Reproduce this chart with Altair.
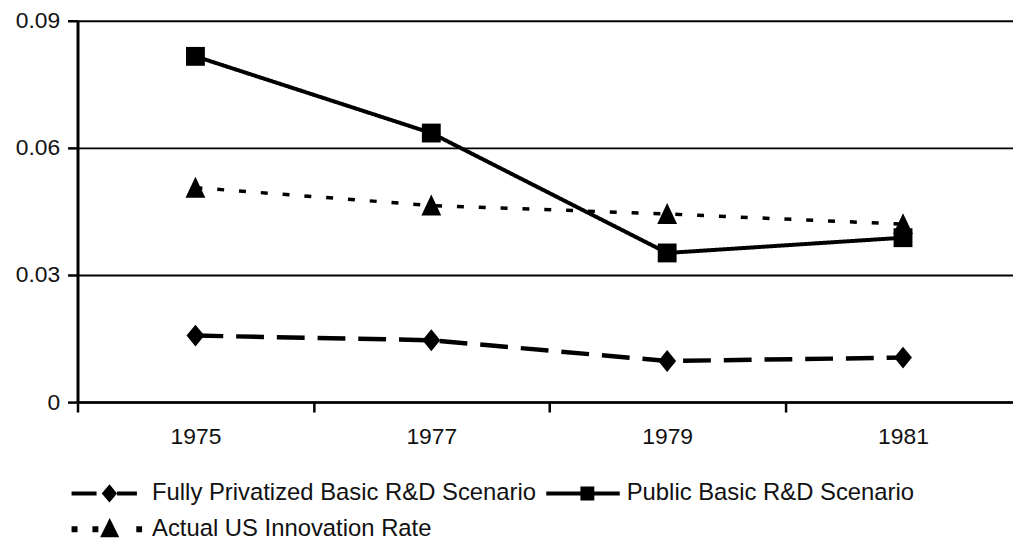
import altair as alt
import pandas as pd

years = ["1975", "1977", "1979", "1981"]
privatized = [0.0157, 0.0146, 0.0097, 0.0105]
public = [0.0816, 0.0635, 0.0352, 0.0388]
actual = [0.0506, 0.0464, 0.0444, 0.0420]
series_names = [
    "Fully Privatized Basic R&D Scenario",
    "Public Basic R&D Scenario",
    "Actual US Innovation Rate",
]
y_ticks = [0, 0.03, 0.06, 0.09]

rows = []
for name, vals in zip(series_names, [privatized, public, actual]):
    for yr, v in zip(years, vals):
        rows.append({"year": yr, "value": v, "series": name})
df = pd.DataFrame(rows)

FONT = "Liberation Sans Narrow, Arial Narrow, Liberation Sans, Arial"
INK = "#111111"
FS = 23
LFS = 24

marker_paths = [
    "M0,-1.1L0.9,0L0,1.1L-0.9,0Z",
    "M-0.95,-0.95H0.95V0.95H-0.95Z",
    "M0,-1.1L1,1H-1Z",
]
legend_paths = [
    "M-2.7,-0.1H-1.44V0.1H-2.7Z M-0.41,-0.1H0.59V0.1H-0.41Z M-0.79,-0.46L-0.41,0L-0.79,0.46L-1.18,0Z",
    "M-2.7,-0.1H1V0.1H-2.7Z M-0.98,-0.35H-0.28V0.35H-0.98Z",
    "M-2.7,-0.15H-2.4V0.15H-2.7Z M-1.65,-0.15H-1.35V0.15H-1.65Z M-0.78,-0.56L-0.3,0.41H-1.26Z M0.56,-0.15H0.85V0.15H0.56Z",
]

x_enc = alt.X(
    "year:O",
    scale=alt.Scale(type="band", paddingInner=0, paddingOuter=0, range=[0, 950]),
    axis=alt.Axis(
        title=None, tickBand="extent", tickSize=10, tickWidth=2.5, tickColor="black",
        domainColor="black", domainWidth=2.5, labelFont=FONT, labelFontSize=FS,
        labelColor=INK, labelPadding=14, labelAngle=0, grid=False,
    ),
)
y_enc = alt.Y(
    "value:Q",
    scale=alt.Scale(domain=[0, 0.09], nice=False),
    axis=alt.Axis(
        values=y_ticks, format=".2~f", title=None, tickSize=10, tickWidth=2.5,
        tickColor="black", domainColor="black", domainWidth=3, grid=True,
        gridColor="black", gridWidth=2, gridOpacity=1, labelFont=FONT,
        labelFontSize=FS, labelColor=INK, labelPadding=8,
    ),
)

lines = alt.Chart(df).mark_line(color="black").encode(
    x=x_enc,
    y=y_enc,
    strokeDash=alt.StrokeDash(
        "series:N",
        scale=alt.Scale(domain=series_names, range=[[28, 13], [1, 0], [7, 15]]),
        legend=None,
    ),
    strokeWidth=alt.StrokeWidth(
        "series:N",
        scale=alt.Scale(domain=series_names, range=[4.5, 3.5, 6.5]),
        legend=None,
    ),
)

points = alt.Chart(df).mark_point(filled=True, color="black", opacity=1, size=400).encode(
    x=x_enc,
    y=y_enc,
    shape=alt.Shape(
        "series:N",
        scale=alt.Scale(domain=series_names, range=marker_paths),
        legend=None,
    ),
)

legend_layer = (
    alt.Chart(df)
    .transform_filter("false")
    .mark_point(filled=True, color="black", opacity=1)
    .encode(
        x=x_enc,
        y=y_enc,
        shape=alt.Shape(
            "series:N",
            scale=alt.Scale(domain=series_names, range=legend_paths),
            legend=alt.Legend(
                title=None, orient="none", direction="horizontal",
                legendX=28, legendY=456, columns=2,
                columnPadding=10, rowPadding=4, labelOffset=7, symbolSize=1600,
                labelFont=FONT, labelFontSize=LFS, labelColor=INK, labelLimit=700,
                padding=0, symbolStrokeWidth=0, symbolFillColor="black",
                symbolOpacity=1,
            ),
        ),
    )
)

chart = (
    alt.layer(lines, points, legend_layer)
    .resolve_scale(shape="independent")
    .resolve_legend(shape="independent")
    .properties(
        width=942, height=384,
        autosize=alt.AutoSizeParams(type="none"),
        padding={"left": 70, "top": 11, "right": 0, "bottom": 137},
        background="white",
    )
    .configure_view(stroke=None)
)

chart.save("out.html", embed_options={"renderer": "svg", "actions": False})
